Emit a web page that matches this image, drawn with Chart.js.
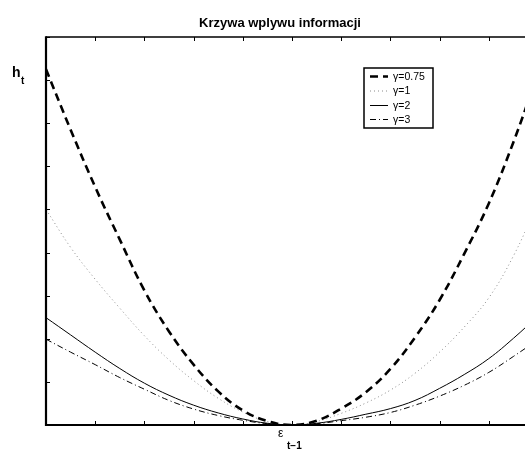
<!DOCTYPE html>
<html>
<head>
<meta charset="utf-8">
<script src="https://cdn.jsdelivr.net/npm/chart.js@4/dist/chart.umd.min.js"></script>
<style>
  html, body { margin: 0; padding: 0; background: #fff; overflow: hidden; }
  #wrap { position: relative; width: 548px; height: 451px; }
</style>
</head>
<body>
<div id="wrap"><canvas id="c"></canvas></div>
<script>
// Shock values (x axis) and conditional variance for each gamma
const epsValues = [-5, -4.5, -4, -3.5, -3, -2.5, -2, -1.5, -1, -0.5, 0, 0.5, 1, 1.5, 2, 2.5, 3, 3.5, 4, 4.5, 5];
const hGamma075 = [8.25, 6.85, 5.52, 4.30, 3.12, 2.17, 1.40, 0.78, 0.34, 0.09, 0, 0.10, 0.38, 0.76, 1.30, 2.03, 2.90, 3.97, 5.14, 6.56, 8.16];
const hGamma1   = [5.00, 4.12, 3.38, 2.71, 2.07, 1.51, 1.03, 0.62, 0.30, 0.08, 0, 0.08, 0.27, 0.51, 0.81, 1.20, 1.69, 2.27, 2.95, 3.92, 5.15];
const hGamma2   = [2.49, 2.09, 1.69, 1.31, 0.97, 0.69, 0.46, 0.28, 0.14, 0.04, 0, 0.04, 0.13, 0.25, 0.38, 0.57, 0.85, 1.17, 1.54, 2.01, 2.53];
const hGamma3   = [1.99, 1.69, 1.40, 1.10, 0.83, 0.57, 0.37, 0.22, 0.11, 0.03, 0, 0.03, 0.10, 0.18, 0.29, 0.46, 0.67, 0.92, 1.22, 1.59, 1.98];
const seriesLabels = ['γ=0.75', 'γ=1', 'γ=2', 'γ=3'];
const xTickValues = [-5, -4, -3, -2, -1, 0, 1, 2, 3, 4, 5];
const yTickValues = [0, 1, 2, 3, 4, 5, 6, 7, 8, 9];

const styles = [
  { color: '#000', width: 2.6, dash: [8, 5] },
  { color: '#8a8a8a', width: 1, dash: [1, 3] },
  { color: '#000', width: 1, dash: [] },
  { color: '#000', width: 1, dash: [6, 3, 1, 3] }
];

const toPoints = arr => arr.map((v, i) => ({ x: epsValues[i], y: v }));
const allSeries = [hGamma075, hGamma1, hGamma2, hGamma3];

const datasets = allSeries.map((s, i) => ({
  label: seriesLabels[i],
  data: toPoints(s),
  borderColor: styles[i].color,
  borderWidth: styles[i].width,
  borderDash: styles[i].dash,
  pointRadius: 0,
  fill: false,
  tension: 0.4
}));

// Frame, inside ticks, axis labels, title and legend
const decor = {
  id: 'decor',
  afterDraw(chart) {
    const ctx = chart.ctx;
    const a = chart.chartArea;
    const xs = chart.scales.x, ys = chart.scales.y;
    ctx.save();
    ctx.strokeStyle = '#000';
    ctx.lineCap = 'butt';
    // frame
    ctx.lineWidth = 1.6;
    ctx.beginPath();
    ctx.moveTo(a.left, a.top); ctx.lineTo(a.right, a.top);
    ctx.lineTo(a.right, a.bottom);
    ctx.stroke();
    ctx.lineWidth = 2.2;
    ctx.beginPath();
    ctx.moveTo(a.left, a.top - 0.8); ctx.lineTo(a.left, a.bottom);
    ctx.lineTo(a.right, a.bottom);
    ctx.stroke();
    // inside ticks
    ctx.lineWidth = 1;
    const tl = 4;
    xTickValues.forEach(v => {
      const px = Math.round(xs.getPixelForValue(v)) + 0.5;
      ctx.beginPath();
      ctx.moveTo(px, a.top); ctx.lineTo(px, a.top + tl);
      ctx.moveTo(px, a.bottom); ctx.lineTo(px, a.bottom - tl);
      ctx.stroke();
    });
    yTickValues.forEach(v => {
      const py = Math.round(ys.getPixelForValue(v)) + 0.5;
      ctx.beginPath();
      ctx.moveTo(a.left, py); ctx.lineTo(a.left + tl, py);
      ctx.moveTo(a.right, py); ctx.lineTo(a.right - tl, py);
      ctx.stroke();
    });
    // title
    ctx.fillStyle = '#000';
    ctx.textAlign = 'center';
    ctx.textBaseline = 'alphabetic';
    ctx.font = 'bold 13px "Liberation Sans", Arial, sans-serif';
    ctx.fillText('Krzywa wplywu informacji', 280, 27);
    // y label h_t
    ctx.textAlign = 'left';
    ctx.font = 'bold 14px "Liberation Sans", Arial, sans-serif';
    ctx.fillText('h', 12, 77);
    ctx.font = 'bold 10px "Liberation Sans", Arial, sans-serif';
    ctx.fillText('t', 21, 84);
    // x label eps_{t-1}
    ctx.font = '12px "Liberation Sans", Arial, sans-serif';
    ctx.fillText('ε', 278, 437);
    ctx.font = 'bold 10px "Liberation Sans", Arial, sans-serif';
    ctx.fillText('t−1', 287, 449);
    // legend
    const bx = 364, by = 68, bw = 69, bh = 60;
    ctx.fillStyle = '#fff';
    ctx.fillRect(bx, by, bw, bh);
    ctx.lineWidth = 1.5;
    ctx.strokeRect(bx, by, bw, bh);
    const rows = [76.5, 91, 105.5, 119.5];
    ctx.font = '10.5px "Liberation Sans", Arial, sans-serif';
    ctx.textBaseline = 'middle';
    seriesLabels.forEach((lab, i) => {
      const st = styles[i];
      ctx.strokeStyle = st.color;
      ctx.lineWidth = st.width;
      ctx.setLineDash(st.dash);
      ctx.beginPath();
      ctx.moveTo(370, rows[i]); ctx.lineTo(388, rows[i]);
      ctx.stroke();
      ctx.setLineDash([]);
      ctx.fillStyle = '#000';
      ctx.fillText(lab, 393, rows[i] + 0.5);
    });
    ctx.restore();
  }
};

new Chart(document.getElementById('c'), {
  type: 'line',
  data: { datasets },
  options: {
    responsive: true,
    maintainAspectRatio: false,
    animation: false,
    layout: { padding: { left: 46, right: 10, top: 37, bottom: 26 } },
    scales: {
      x: { type: 'linear', min: -5, max: 5, display: false },
      y: { type: 'linear', min: 0, max: 9, display: false }
    },
    plugins: { legend: { display: false }, title: { display: false }, tooltip: { enabled: false } }
  },
  plugins: [decor]
});
</script>
</body>
</html>
